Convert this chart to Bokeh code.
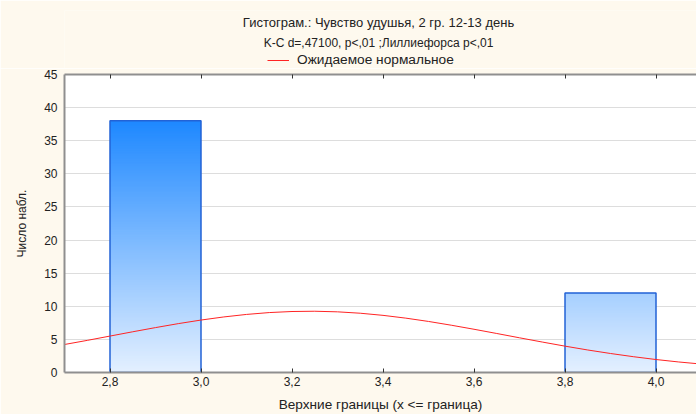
import numpy as np
from bokeh.plotting import figure
from bokeh.layouts import column
from bokeh.models import (Range1d, FixedTicker, LinearAxis, Legend,
                          LegendItem, Label)
from bokeh.embed import file_html
from bokeh.resources import INLINE

# ---- data ----
bin_left = [2.8, 3.8]
bin_right = [3.0, 4.0]
counts = [38, 12]

curve_x = [2.70, 2.75, 2.80, 2.85, 2.90, 2.95, 3.00, 3.05, 3.10, 3.15, 3.20,
           3.25, 3.30, 3.35, 3.40, 3.45, 3.50, 3.55, 3.60, 3.65, 3.70, 3.75,
           3.80, 3.85, 3.90, 3.95, 4.00, 4.05, 4.10]
curve_y = [4.23, 4.85, 5.50, 6.15, 6.78, 7.38, 7.92, 8.39, 8.77, 9.05, 9.21,
           9.25, 9.16, 8.95, 8.63, 8.21, 7.71, 7.14, 6.53, 5.89, 5.24, 4.60,
           3.98, 3.40, 2.87, 2.39, 1.96, 1.59, 1.27]

x_ticks = [2.8, 3.0, 3.2, 3.4, 3.6, 3.8, 4.0]
x_tick_labels = ["2,8", "3,0", "3,2", "3,4", "3,6", "3,8", "4,0"]
y_ticks = [0, 5, 10, 15, 20, 25, 30, 35, 40, 45]

title_lines = ["Гистограм.: Чувство удушья, 2 гр. 12-13 день",
               "K-C d=,47100, p<,01 ;Лиллиефорса p<,01"]
legend_label = "Ожидаемое нормальное"
x_label = "Верхние границы (x <= граница)"
y_label = "Число набл."

FONT = "Liberation Sans"
TXT = "#222222"
CREAM = "#FEF9EE"
RED = "#FF2424"
HEAD_H = 68
LEFT = 64

# ---- header: title lines + legend ----
# header frame is aligned with the main frame (x from LEFT to 696),
# so its ranges are set in page pixels
h = figure(width=696, height=HEAD_H, output_backend="svg",
           toolbar_location=None, title=None,
           x_range=Range1d(LEFT, 696), y_range=Range1d(HEAD_H, 10),
           x_axis_type=None, y_axis_type=None,
           min_border_left=LEFT, min_border_right=0, min_border_bottom=0,
           min_border_top=10,
           background_fill_color=CREAM, border_fill_color=CREAM,
           outline_line_color=None)
h.grid.visible = False
for yy, t, fs in zip([22, 42], title_lines, ["13px", "12px"]):
    h.add_layout(Label(x=378, y=yy, text=t, text_align="center",
                       text_baseline="middle", text_font=FONT,
                       text_font_size=fs, text_color=TXT))
# legend sample renderer (its data lie outside the header's ranges)
sample = h.line(curve_x, curve_y, line_color=RED, line_width=1)
legend = Legend(items=[LegendItem(label=legend_label, renderers=[sample])],
                location=(267 - LEFT, 1), orientation="horizontal",
                border_line_color=None, background_fill_alpha=0,
                padding=0, margin=0, spacing=0, glyph_width=22,
                glyph_height=12, label_standoff=8, label_height=12,
                label_text_font=FONT, label_text_font_size="13.7px",
                label_text_color=TXT)
h.add_layout(legend)

# ---- main plot ----
p = figure(width=696, height=414 - HEAD_H, output_backend="svg",
           toolbar_location=None, title=None,
           x_range=Range1d(2.7, 4.089), y_range=Range1d(0, 45),
           min_border_left=LEFT, min_border_right=0, min_border_top=6,
           min_border_bottom=40, background_fill_color="white",
           border_fill_color=CREAM, outline_line_color=None)

# gradient-filled bars: overlapping strips, each from its own bottom up to
# the bar top, drawn bottom-first so no seams show
STEP = 0.25
cmax = max(counts)
lo_rgb = np.array([228, 240, 255])
hi_rgb = np.array([30, 136, 255])
sl, sr, sb, st, sc = [], [], [], [], []
for l, r, c in zip(bin_left, bin_right, counts):
    n = int(np.ceil(c / STEP))
    edges = np.linspace(0, c, n + 1)
    for b, t in zip(edges[:-1], edges[1:]):
        f = min(1.0, ((b + t) / 2) / cmax)
        rgb = (lo_rgb + (hi_rgb - lo_rgb) * f).round().astype(int)
        sl.append(l); sr.append(r); sb.append(b); st.append(c)
        sc.append("#%02x%02x%02x" % tuple(rgb))
p.quad(left=sl, right=sr, bottom=sb, top=st, fill_color=sc, line_color=None)
p.quad(left=bin_left, right=bin_right, bottom=[0] * len(counts), top=counts,
       fill_color=None, line_color="#2262D6", line_width=1.5)

# expected normal curve
p.line(curve_x, curve_y, line_color=RED, line_width=1)

# axes
xa = p.xaxis[0]
xa.ticker = FixedTicker(ticks=x_ticks)
xa.major_label_overrides = dict(zip(x_ticks, x_tick_labels))
xa.axis_line_color = "#8F8F8F"
xa.axis_line_width = 2
xa.major_tick_in = 4
xa.major_tick_out = 0
xa.major_tick_line_color = "#333333"
xa.minor_tick_line_color = None
xa.major_label_text_font = FONT
xa.major_label_text_font_size = "12px"
xa.major_label_text_color = TXT
xa.major_label_standoff = 4
xa.axis_label = x_label
xa.axis_label_text_font = FONT
xa.axis_label_text_font_size = "13.6px"
xa.axis_label_text_font_style = "normal"
xa.axis_label_text_color = TXT
xa.axis_label_standoff = 8

ya = p.yaxis[0]
ya.ticker = FixedTicker(ticks=y_ticks)
ya.axis_line_color = "#8F8F8F"
ya.axis_line_width = 2
ya.major_tick_in = 0
ya.major_tick_out = 0
ya.minor_tick_line_color = None
ya.major_label_text_font = FONT
ya.major_label_text_font_size = "12px"
ya.major_label_text_color = TXT
ya.major_label_standoff = 7
ya.axis_label = y_label
ya.axis_label_text_font = FONT
ya.axis_label_text_font_size = "12px"
ya.axis_label_text_font_style = "normal"
ya.axis_label_text_color = TXT
ya.axis_label_standoff = 12

top_axis = LinearAxis(ticker=FixedTicker(ticks=x_ticks),
                      major_label_text_font_size="0px", major_label_standoff=0,
                      major_tick_in=4, major_tick_out=0,
                      major_tick_line_color="#333333",
                      minor_tick_line_color=None,
                      axis_line_color="#8F8F8F", axis_line_width=2)
p.add_layout(top_axis, "above")

p.xgrid.visible = False
p.ygrid.ticker = FixedTicker(ticks=y_ticks)
p.ygrid.grid_line_color = "#DDDDDD"

layout = column(h, p, spacing=0)
open("out.html", "w").write(file_html(layout, INLINE))
